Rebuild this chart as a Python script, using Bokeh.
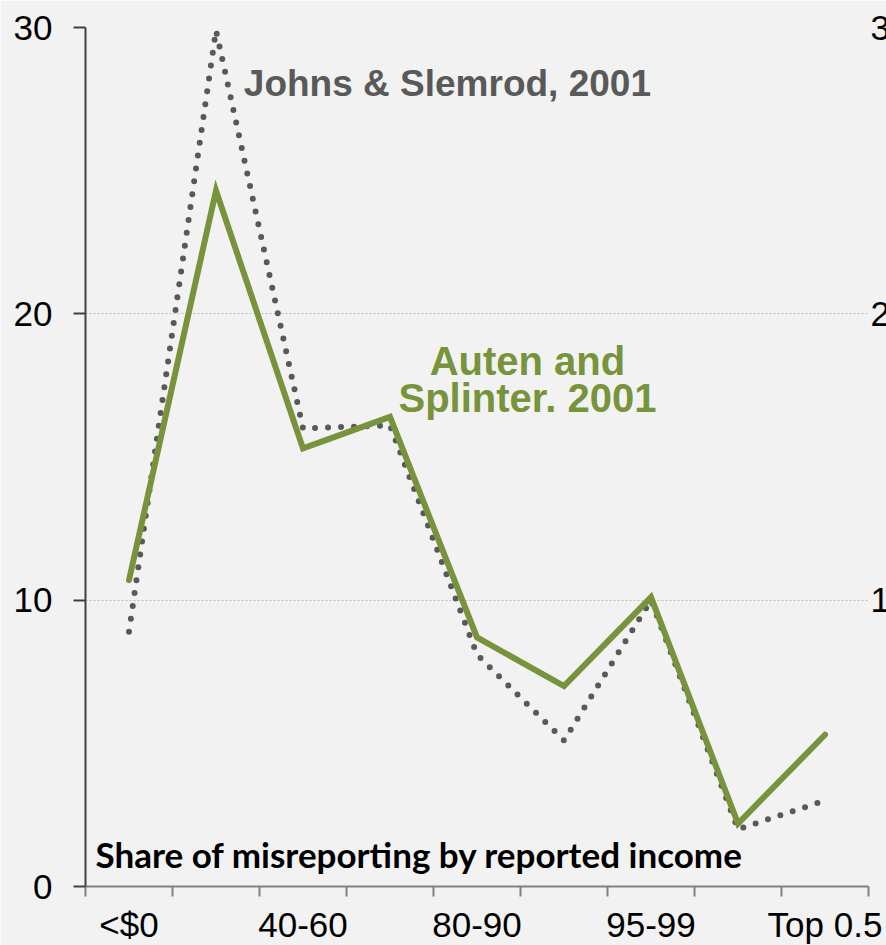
from bokeh.plotting import figure
from bokeh.models import FixedTicker, Label, ColumnDataSource, LinearAxis
from bokeh.embed import file_html
from bokeh.resources import INLINE

# ---- data ----
categories = ["<$0", "0-40", "40-60", "60-80", "80-90", "90-95", "95-99", "99-99.5", "Top 0.5"]
shown_labels = ["<$0", "", "40-60", "", "80-90", "", "95-99", "", "Top 0.5"]
auten_splinter = [10.7, 24.3, 15.3, 16.4, 8.7, 7.0, 10.1, 2.2, 5.3]
johns_slemrod = [8.9, 29.9, 16.0, 16.1, 8.1, 5.1, 10.0, 2.0, 3.0]
y_ticks = [0, 10, 20, 30]
right_ticks = [10, 20, 30]

GREEN = "#77933C"
GREY = "#595959"
BG = "#F2F2F2"

xs = list(range(len(categories)))
src = ColumnDataSource(dict(x=xs, cat=categories, a=auten_splinter, j=johns_slemrod))

p = figure(frame_width=783, frame_height=859, output_backend="svg", toolbar_location=None,
           x_range=(-0.5, len(categories) - 0.5), y_range=(0, 30),
           min_border_left=85, min_border_right=18, min_border_top=27, min_border_bottom=59)
p.background_fill_color = BG
p.border_fill_color = BG
p.outline_line_color = None

p.line("x", "j", source=src, line_color=GREY, line_width=6, line_dash="0 13", line_cap="round")
p.line("x", "a", source=src, line_color=GREEN, line_width=6, line_cap="round", line_join="miter")

# grid
p.xgrid.visible = False
p.ygrid.ticker = FixedTicker(ticks=[10, 20, 30])
p.ygrid.grid_line_color = "#BFBFBF"
p.ygrid.grid_line_dash = "2 2"
p.ygrid.grid_line_width = 1

# y axis
ya = p.yaxis[0]
ya.ticker = FixedTicker(ticks=y_ticks)
ya.axis_line_color = "#404040"
ya.axis_line_width = 2
ya.major_tick_line_color = "#404040"
ya.major_tick_line_width = 2
ya.major_tick_out = 12
ya.major_tick_in = 0
ya.minor_tick_line_color = None
ya.major_label_standoff = 21
ya.major_label_text_font = "Liberation Sans"
ya.major_label_text_font_size = "35px"
ya.major_label_text_color = "black"

# right axis (its labels run off the page edge, as in the original)
ra = LinearAxis(ticker=FixedTicker(ticks=right_ticks))
ra.axis_line_color = None
ra.major_tick_line_color = None
ra.minor_tick_line_color = None
ra.major_tick_out = 0
ra.major_tick_in = 0
ra.major_label_standoff = 2
ra.major_label_text_font = "Liberation Sans"
ra.major_label_text_font_size = "35px"
ra.major_label_text_color = "black"
p.add_layout(ra, "right")

# x axis: labels at category centres, ticks at boundaries
xa = p.xaxis[0]
xa.ticker = FixedTicker(ticks=xs, minor_ticks=[i - 0.5 for i in range(len(categories) + 1)])
xa.major_label_overrides = {i: lab for i, lab in zip(xs, shown_labels)}
xa.axis_line_color = "#808080"
xa.axis_line_width = 2
xa.major_tick_line_color = None
xa.major_tick_out = 0
xa.major_tick_in = 0
xa.minor_tick_line_color = "#808080"
xa.minor_tick_line_width = 2
xa.minor_tick_out = 10
xa.minor_tick_in = 0
xa.major_label_standoff = 8
xa.major_label_text_line_height = 1.0
xa.major_label_text_font = "Liberation Sans"
xa.major_label_text_font_size = "35px"
xa.major_label_text_color = "black"

# annotations
p.add_layout(Label(x=1.32, y=28.05, text="Johns & Slemrod, 2001", text_font="Liberation Sans",
                   text_font_style="bold", text_font_size="37px", text_color=GREY,
                   text_align="left", text_baseline="middle"))
p.add_layout(Label(x=4.58, y=18.34, text="Auten and", text_font="Liberation Sans",
                   text_font_style="bold", text_font_size="40px", text_color=GREEN,
                   text_align="center", text_baseline="middle"))
p.add_layout(Label(x=4.58, y=17.06, text="Splinter. 2001", text_font="Liberation Sans",
                   text_font_style="bold", text_font_size="40px", text_color=GREEN,
                   text_align="center", text_baseline="middle"))
p.add_layout(Label(x=-0.385, y=1.15, text="Share of misreporting by reported income", text_font="Lato",
                   text_font_style="bold", text_font_size="35px", text_color="black",
                   text_align="left", text_baseline="middle"))

html = file_html(p, INLINE)
html = html.replace("<body>", '<body style="background-color:#F2F2F2; overflow:hidden;">', 1)
open("out.html", "w").write(html)
